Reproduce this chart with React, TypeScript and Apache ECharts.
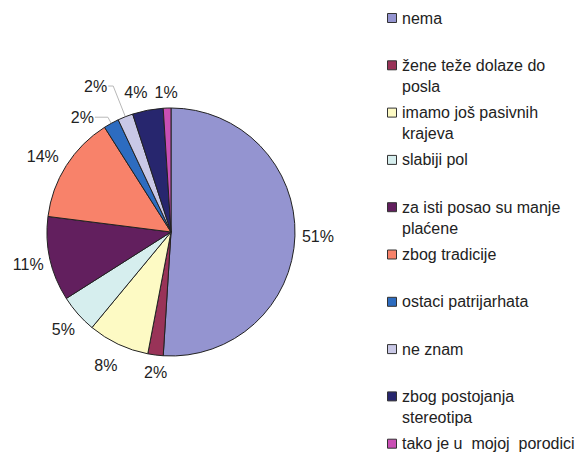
import React, { useEffect, useRef } from "react";
import * as echarts from "echarts";

const categories = [
  "nema",
  "žene teže dolaze do\nposla",
  "imamo još pasivnih\nkrajeva",
  "slabiji pol",
  "za isti posao su manje\nplaćene",
  "zbog tradicije",
  "ostaci patrijarhata",
  "ne znam",
  "zbog postojanja\nstereotipa",
  "tako je u  mojoj  porodici",
];
const values = [51, 2, 8, 5, 11, 14, 2, 2, 4, 1];
const colors = [
  "#9494d0",
  "#993358",
  "#fdfac4",
  "#d6eeee",
  "#621f5e",
  "#f8826a",
  "#2d6cc0",
  "#c9c8e6",
  "#27266e",
  "#c94fb4",
];
// label placement tuning (layout, not data)
const showLine = [false, false, false, false, false, false, true, true, false, false];
const lineLen1 = [7, 18, 23, 24, 27, 16, 7, 33, 18, 16];
const lineLen2 = [0, -14, -9, -15, -20, -6, 13, 5, -3, -11];

export default function App() {
  const ref = useRef<HTMLDivElement>(null);
  useEffect(() => {
    if (!ref.current) return;
    const chart = echarts.init(ref.current, null, { renderer: "svg" });
    const font = "Liberation Sans, Arial, sans-serif";
    const legendItems: any[] = [];
    categories.forEach((name, i) => {
      const cy = 18 + i * 47.3;
      legendItems.push({
        type: "rect",
        shape: { x: 387.5, y: cy - 4.5, width: 9, height: 9 },
        style: { fill: colors[i], stroke: "#333", lineWidth: 1 },
      });
      legendItems.push({
        type: "text",
        x: 402,
        y: cy - 10.5,
        style: {
          text: name,
          font: `16px ${font}`,
          fill: "#222",
          lineHeight: 21,
          verticalAlign: "top",
          align: "left",
        },
      });
    });
    chart.setOption({
      animation: false,
      backgroundColor: "#ffffff",
      graphic: legendItems,
      series: [
        {
          type: "pie",
          center: [171, 232],
          radius: 124,
          startAngle: 90,
          clockwise: true,
          avoidLabelOverlap: false,
          data: categories.map((name, i) => ({
            name,
            value: values[i],
            itemStyle: { color: colors[i] },
            label: { distanceToLabelLine: showLine[i] ? 1 : 0 },
            labelLine: {
              show: showLine[i],
              length: lineLen1[i],
              length2: lineLen2[i],
            },
          })),
          itemStyle: { borderColor: "#222", borderWidth: 1 },
          label: {
            show: true,
            position: "outside",
            formatter: "{d}%",
            fontFamily: font,
            fontSize: 16,
            color: "#222",
            overflow: "none",
          },
          labelLine: {
            lineStyle: { color: "#b8b8b8", width: 1 },
            maxSurfaceAngle: 180,
            minTurnAngle: 0,
          },
        },
      ],
    });
    return () => chart.dispose();
  }, []);
  return <div ref={ref} style={{ width: 587, height: 452, position: "absolute", left: 0, top: 0 }} />;
}
